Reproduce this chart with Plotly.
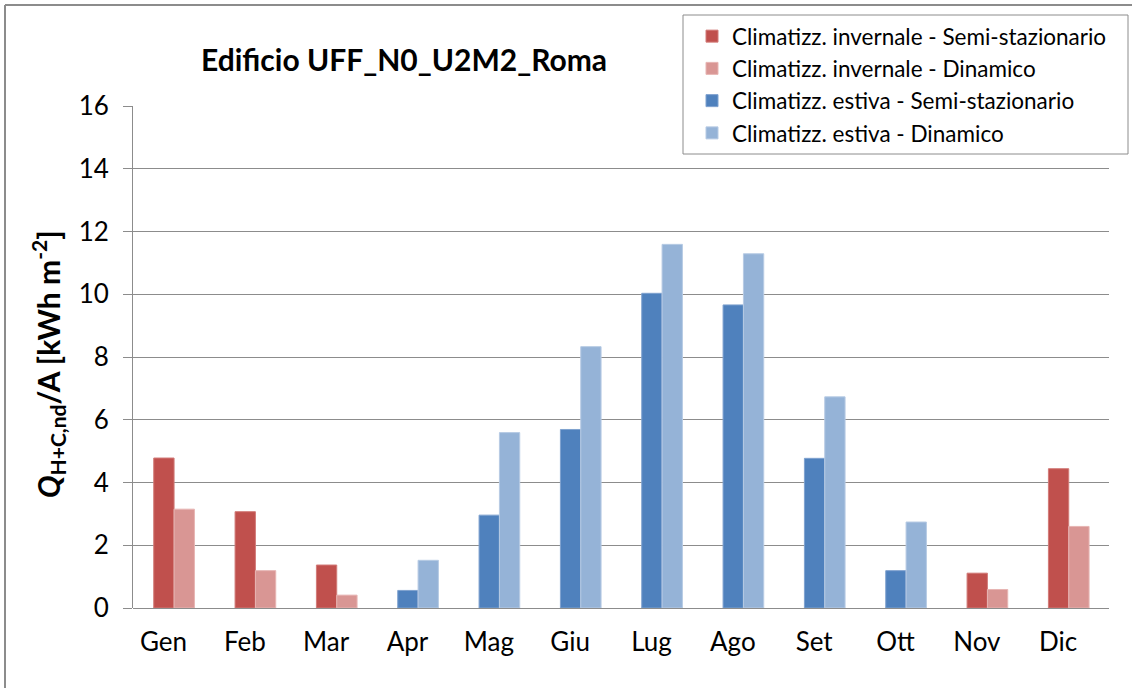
import plotly.graph_objects as go

# Monthly specific energy need (kWh/m2), Roma building UFF_N0_U2M2
months = ["Gen", "Feb", "Mar", "Apr", "Mag", "Giu", "Lug", "Ago", "Set", "Ott", "Nov", "Dic"]
heat_semi = [4.78, 3.07, 1.37, None, None, None, None, None, None, None, 1.11, 4.44]
heat_dyn = [3.15, 1.19, 0.41, None, None, None, None, None, None, None, 0.59, 2.60]
cool_semi = [None, None, None, 0.56, 2.96, 5.69, 10.03, 9.66, 4.77, 1.19, None, None]
cool_dyn = [None, None, None, 1.52, 5.59, 8.33, 11.59, 11.29, 6.73, 2.74, None, None]

y_ticks = [0, 2, 4, 6, 8, 10, 12, 14, 16]

FONT = "Lato"

series = [
    ("Climatizz. invernale - Semi-stazionario", heat_semi, "#C0504D", "#d27b78", -0.12),
    ("Climatizz. invernale - Dinamico", heat_dyn, "#D99694", "#e7b5b3", 0.13),
    ("Climatizz. estiva - Semi-stazionario", cool_semi, "#4F81BD", "#7fa2cf", -0.12),
    ("Climatizz. estiva - Dinamico", cool_dyn, "#95B3D7", "#b7cbe4", 0.13),
]

fig = go.Figure()
for name, vals, color, edge, off in series:
    fig.add_trace(go.Bar(
        x=months, y=vals, name=name,
        offset=off, width=0.25,
        marker=dict(color=color, line=dict(color=edge, width=1)),
    ))

# plot-area geometry (pixels) used to place frame and title in paper coords
L, R, T, B = 133, 23, 106, 80
W, H = 1132, 688
pw, ph = W - L - R, H - T - B


def px(x):
    return (x - L) / pw


def py(y):
    return (H - B - y) / ph


frame = "#8c8c8c"
# outer chart frame (top and left edges)
fig.add_shape(type="line", xref="paper", yref="paper",
              x0=px(5), x1=px(1140), y0=py(5), y1=py(5),
              line=dict(color=frame, width=2))
fig.add_shape(type="line", xref="paper", yref="paper",
              x0=px(5), x1=px(5), y0=py(5), y1=py(700),
              line=dict(color=frame, width=2))
# legend box
fig.add_shape(type="rect", xref="paper", yref="paper",
              x0=px(683), x1=px(1128), y0=py(15), y1=py(154),
              line=dict(color=frame, width=1), fillcolor="white", layer="below")

fig.add_annotation(
    text="<b>Edificio UFF_N0_U2M2_Roma</b>",
    xref="paper", yref="paper", x=px(404), y=py(59),
    xanchor="center", yanchor="middle", showarrow=False,
    font=dict(family=FONT, size=30, color="#000000"),
)
fig.add_annotation(
    text="<b><i>Q</i><sub>H+C,nd</sub>/A [kWh m<sup>-2</sup>]</b>",
    xref="paper", yref="paper", x=px(48), y=py(364),
    xanchor="center", yanchor="middle", showarrow=False, textangle=-90,
    font=dict(family=FONT, size=30, color="#000000"),
)

fig.update_layout(
    width=W, height=H,
    margin=dict(l=L, r=R, t=T, b=B, pad=0),
    paper_bgcolor="white", plot_bgcolor="rgba(0,0,0,0)",
    barmode="overlay",
    font=dict(family=FONT, color="#000000"),
    showlegend=True,
    legend=dict(
        x=px(692), y=py(15), xanchor="left", yanchor="top",
        borderwidth=0, bgcolor="rgba(0,0,0,0)",
        font=dict(family=FONT, size=22.5, color="#000000"),
        traceorder="normal",
    ),
    xaxis=dict(
        type="category", range=[-0.375, 11.625],
        showgrid=False, zeroline=False,
        showline=False, ticks="",
        tickfont=dict(family=FONT, size=26, color="#000000"),
        ticklabelstandoff=16,
    ),
    yaxis=dict(
        range=[0, 16], tickvals=y_ticks,
        showgrid=True, gridcolor="#8c8c8c", gridwidth=1,
        zeroline=True, zerolinecolor="#8c8c8c", zerolinewidth=1,
        showline=True, linecolor="#8c8c8c", linewidth=1,
        ticks="outside", ticklen=9, tickcolor="#8c8c8c",
        tickfont=dict(family=FONT, size=26, color="#000000"),
        ticklabelstandoff=9,
    ),
)

fig.write_html("out.html")
